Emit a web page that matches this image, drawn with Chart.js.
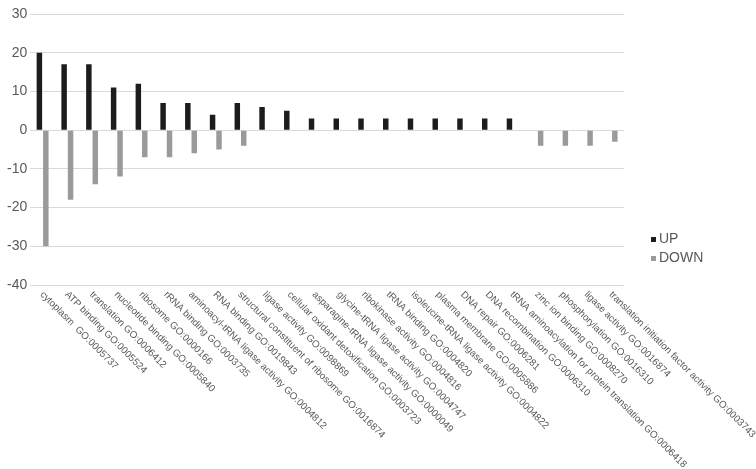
<!DOCTYPE html>
<html>
<head>
<meta charset="utf-8">
<title>GO terms up / down</title>
<script src="https://cdn.jsdelivr.net/npm/chart.js"></script>
<style>
  html, body { margin: 0; padding: 0; background: #fff; }
  #wrap { position: relative; width: 756px; height: 469px; }
</style>
</head>
<body>
<div id="wrap"><canvas id="chartCanvas" width="756" height="469"></canvas></div>
<script>
var categories = [
  'cytoplasm  GO:0005737',
  'ATP binding GO:0005524',
  'translation GO:0006412',
  'nucleotide binding GO:0005840',
  'ribosome GO:0000166',
  'rRNA binding GO:0003735',
  'aminoacyl-tRNA ligase activity GO:0004812',
  'RNA binding GO:0019843',
  'structural constituent of ribosome GO:0016874',
  'ligase activity GO:0098869',
  'cellular oxidant detoxification GO:0003723',
  'asparagine-tRNA ligase activity GO:0000049',
  'glycine-tRNA ligase activity GO:0004747',
  'ribokinase activity GO:0004816',
  'tRNA binding GO:0004820',
  'isoleucine-tRNA ligase activity GO:0004822',
  'plasma membrane GO:0005886',
  'DNA repair GO:0006281',
  'DNA recombination GO:0006310',
  'tRNA aminoacylation for protein translation GO:0006418',
  'zinc ion binding GO:0008270',
  'phosphorylation GO:0016310',
  'ligase activity GO:0016874',
  'translation initiation factor activity GO:0003743'
];
var upValues   = [20, 17, 17, 11, 12, 7, 7, 4, 7, 6, 5, 3, 3, 3, 3, 3, 3, 3, 3, 3, 0, 0, 0, 0];
var downValues = [-30, -18, -14, -12, -7, -7, -6, -5, -4, 0, 0, 0, 0, 0, 0, 0, 0, 0, 0, 0, -4, -4, -4, -3];
var yTicks = [30, 20, 10, 0, -10, -20, -30, -40];

// x labels are drawn slanted downwards, starting at the tick
var slantLabels = {
  id: 'slantLabels',
  afterDraw: function(chart) {
    var ctx = chart.ctx;
    var xs = chart.scales.x;
    var bottom = chart.chartArea.bottom;
    ctx.save();
    ctx.font = '9.8px "Liberation Sans", Arial, sans-serif';
    ctx.fillStyle = '#595959';
    ctx.textAlign = 'left';
    ctx.textBaseline = 'middle';
    categories.forEach(function(lab, i) {
      var x = xs.getPixelForValue(i);
      ctx.save();
      ctx.translate(x - 1, bottom + 8);
      ctx.rotate(Math.PI / 4);
      ctx.fillText(lab, 0, 0);
      ctx.restore();
    });

    // legend
    ctx.font = '14px "Liberation Sans", Arial, sans-serif';
    chart.data.datasets.forEach(function(ds, i) {
      var y = 239 + i * 19;
      ctx.fillStyle = ds.backgroundColor;
      ctx.fillRect(651, y - 2, 5, 5);
      ctx.fillStyle = '#595959';
      ctx.fillText(ds.label, 659, y);
    });
    ctx.restore();
  }
};

var ctx = document.getElementById('chartCanvas').getContext('2d');
var chart = new Chart(ctx, {
  type: 'bar',
  data: {
    labels: categories,
    datasets: [{
      label: 'UP',
      data: upValues,
      backgroundColor: '#1c1c1c'
    }, {
      label: 'DOWN',
      data: downValues,
      backgroundColor: '#9a9a9a'
    }]
  },
  options: {
    responsive: false,
    animation: false,
    layout: { padding: { left: 4, right: 132, top: 14, bottom: 176 } },
    datasets: { bar: { categoryPercentage: 0.52, barPercentage: 0.85 } },
    plugins: {
      legend: { display: false },
      tooltip: { enabled: false }
    },
    scales: {
      x: {
        grid: { display: false },
        border: { display: false },
        ticks: { display: false }
      },
      y: {
        min: -40,
        max: 30,
        afterBuildTicks: function(axis) {
          axis.ticks = yTicks.map(function(v) { return { value: v }; });
        },
        grid: { color: '#d9d9d9', lineWidth: 1, drawTicks: false },
        border: { display: false },
        ticks: {
          padding: 3,
          color: '#595959',
          font: { family: '"Liberation Sans", Arial, sans-serif', size: 14 }
        }
      }
    }
  },
  plugins: [slantLabels]
});
</script>
</body>
</html>
